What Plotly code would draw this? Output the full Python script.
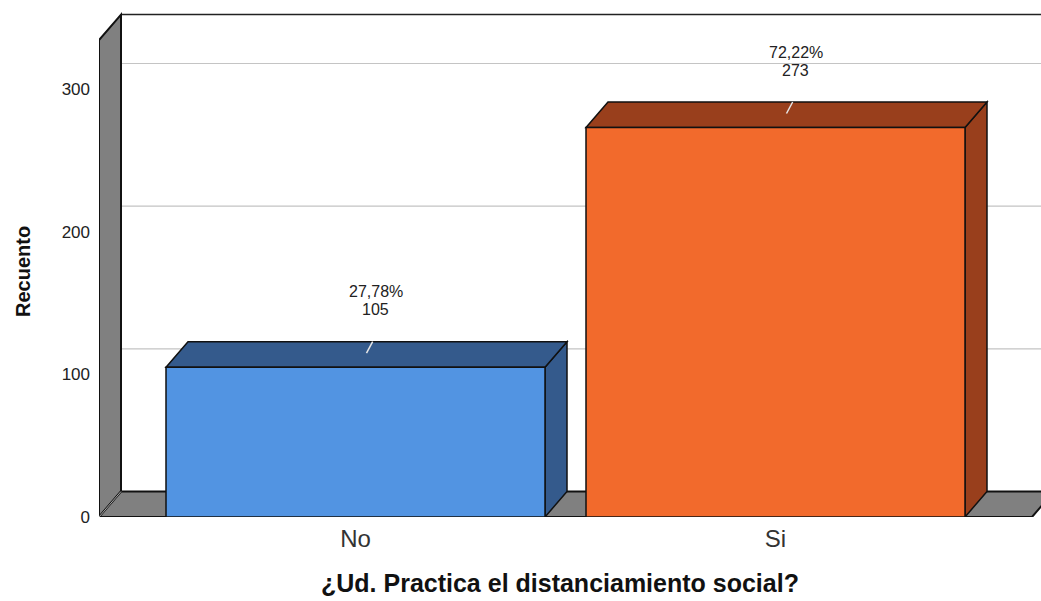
import plotly.graph_objects as go

# ---- data ----
categories = ["No", "Si"]
counts = [105, 273]
percent_labels = ["27,78%", "72,22%"]
y_ticks = [0, 100, 200, 300]
x_title = "¿Ud. Practica el distanciamiento social?"
y_title = "Recuento"

# ---- styles ----
front_colors = ["#5294E2", "#F26A2C"]
dark_colors = ["#345A8C", "#993F1C"]
wall_color = "#808080"
grid_color = "#C4C4C4"
FONT = "Liberation Sans, Arial"

PX_X = 420.0          # pixels per category unit
PX_Y = 428.0 / 300.0  # pixels per count unit
x_lo = (99 - 355.5) / PX_X
x_hi = (1041 - 355.5) / PX_X
y_hi = 517 / PX_Y
DX = 22 / PX_X        # depth offset in x units
DY = 25.5 / PX_Y      # depth offset in y units
BAR_W = 379 / PX_X
WALL_TOP = 334.3
FLOOR_RIGHT = (1032 - 355.5) / PX_X


def poly(pts):
    return "M " + " L ".join(f"{x},{y}" for x, y in pts) + " Z"


shapes = []
# gridlines on back wall (with diagonal on the side wall)
for v in y_ticks:
    if v == 0:
        continue
    shapes.append(dict(type="path", xref="x", yref="y", layer="below",
                       path=f"M {x_lo},{v} L {x_lo+DX},{v+DY} L {x_hi+0.05},{v+DY}",
                       line=dict(color=grid_color, width=1.2)))
# back wall top edge
shapes.append(dict(type="line", xref="x", yref="y", layer="below",
                   x0=x_lo + DX, y0=WALL_TOP + DY, x1=x_hi + 0.05, y1=WALL_TOP + DY,
                   line=dict(color="#222222", width=1.5)))
# side wall
shapes.append(dict(type="path", xref="x", yref="y", layer="below",
                   path=poly([(x_lo, 0), (x_lo, WALL_TOP), (x_lo + DX, WALL_TOP + DY), (x_lo + DX, DY)]),
                   fillcolor=wall_color, line=dict(color="#111111", width=2)))
# floor
shapes.append(dict(type="path", xref="x", yref="y", layer="below",
                   path=poly([(x_lo, 0), (x_lo + DX, DY), (FLOOR_RIGHT + DX, DY), (FLOOR_RIGHT, 0)]),
                   fillcolor=wall_color, line=dict(color="#111111", width=2)))
# light diagonal of 0 gridline on floor corner
shapes.append(dict(type="line", xref="x", yref="y", layer="below",
                   x0=x_lo, y0=0, x1=x_lo + DX, y1=DY,
                   line=dict(color="#A8A8A8", width=1)))

# 3D faces of the bars
for i, v in enumerate(counts):
    xl = i - BAR_W / 2
    xr = i + BAR_W / 2
    # right side face
    shapes.append(dict(type="path", xref="x", yref="y", layer="below",
                       path=poly([(xr, 0), (xr + DX, DY), (xr + DX, v + DY), (xr, v)]),
                       fillcolor=dark_colors[i], line=dict(color="#111111", width=1.5)))
    # top face
    shapes.append(dict(type="path", xref="x", yref="y", layer="below",
                       path=poly([(xl, v), (xl + DX, v + DY), (xr + DX, v + DY), (xr, v)]),
                       fillcolor=dark_colors[i], line=dict(color="#111111", width=1.5)))
    # leader line
    shapes.append(dict(type="line", xref="x", yref="y", layer="below",
                       x0=i + 0.5 * DX, y0=v + 0.55 * DY, x1=i + 0.78 * DX, y1=v + DY,
                       line=dict(color="#E6E6E6", width=1.5)))

fig = go.Figure()
fig.add_trace(go.Bar(
    x=[0, 1], y=counts, width=BAR_W,
    marker=dict(color=front_colors, line=dict(color="#111111", width=1.5)),
    hoverinfo="skip", showlegend=False,
))

annotations = []
for i, v in enumerate(counts):
    annotations.append(dict(
        x=i, y=v + DY, xref="x", yref="y", xshift=20, yshift=50,
        text=percent_labels[i], showarrow=False, yanchor="middle",
        bgcolor="white", borderpad=0,
        font=dict(family=FONT, size=16, color="#222222"),
    ))
    annotations.append(dict(
        x=i, y=v + DY, xref="x", yref="y", xshift=20, yshift=32,
        text=str(v), showarrow=False, yanchor="middle",
        borderpad=0,
        font=dict(family=FONT, size=16, color="#222222"),
    ))
annotations.append(dict(
    x=(560 - 99) / 942, y=-(66 / 517), xref="paper", yref="paper",
    text=f"<b>{x_title}</b>", showarrow=False, xanchor="center", yanchor="middle",
    font=dict(family=FONT, size=25, color="#111111"),
))
annotations.append(dict(
    x=(23 - 99) / 942, y=(517 - 272) / 517, xref="paper", yref="paper",
    text=f"<b>{y_title}</b>", showarrow=False, textangle=-90,
    xanchor="center", yanchor="middle",
    font=dict(family=FONT, size=20, color="#111111"),
))

fig.update_layout(
    width=1041, height=601,
    margin=dict(l=99, r=0, t=0, b=84),
    paper_bgcolor="white", plot_bgcolor="white",
    shapes=shapes, annotations=annotations,
    showlegend=False,
    xaxis=dict(range=[x_lo, x_hi], tickvals=[0, 1], ticktext=categories,
               showgrid=False, zeroline=False, showline=False, ticks="",
               ticklabelstandoff=5,
               tickfont=dict(family=FONT, size=24, color="#333333")),
    yaxis=dict(range=[0, y_hi], tickvals=y_ticks, showgrid=False, zeroline=False,
               showline=False, ticks="", ticklabelstandoff=8,
               tickfont=dict(family=FONT, size=17, color="#222222")),
)

fig.write_html("out.html")
